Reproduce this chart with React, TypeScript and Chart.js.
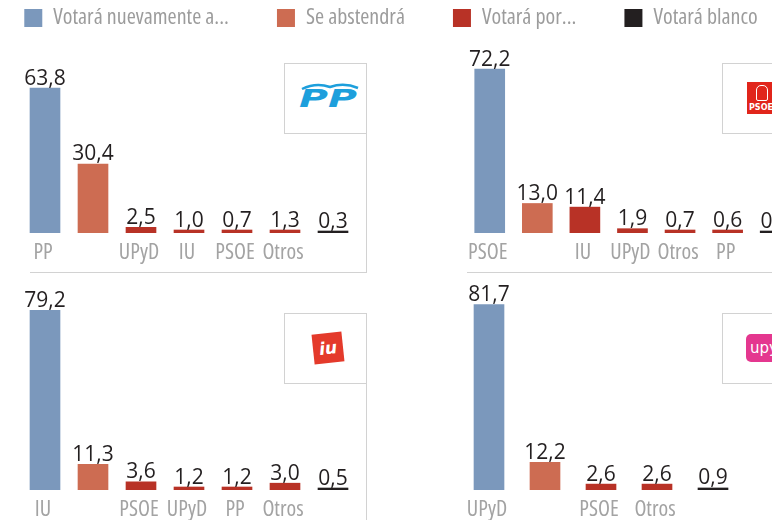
import React, { useEffect, useRef } from "react";
import { Chart, registerables } from "chart.js";

Chart.register(...registerables);

const FAMILY = '"Open Sans", Roboto, sans-serif';

// Legend series (one colour per kind of answer)
const SERIES = ["Votará nuevamente a...", "Se abstendrá", "Votará por...", "Votará blanco"];
const COLORS = ["#7b98bc", "#cd6c52", "#b83226", "#231f20"];

// Panel: voters of PP
const PP_CATEGORIES = ["PP", "", "UPyD", "IU", "PSOE", "Otros", ""];
const PP_VALUES = [63.8, 30.4, 2.5, 1.0, 0.7, 1.3, 0.3];

// Panel: voters of PSOE
const PSOE_CATEGORIES = ["PSOE", "", "IU", "UPyD", "Otros", "PP", ""];
const PSOE_VALUES = [72.2, 13.0, 11.4, 1.9, 0.7, 0.6, 0.4];

// Panel: voters of IU
const IU_CATEGORIES = ["IU", "", "PSOE", "UPyD", "PP", "Otros", ""];
const IU_VALUES = [79.2, 11.3, 3.6, 1.2, 1.2, 3.0, 0.5];

// Panel: voters of UPyD
const UPYD_CATEGORIES = ["UPyD", "", "PSOE", "Otros", ""];
const UPYD_VALUES = [81.7, 12.2, 2.6, 2.6, 0.9];

const kindOf = (i: number, n: number) => (i === 0 ? 0 : i === 1 ? 1 : i === n - 1 ? 3 : 2);

function buildDatasets(values: number[]) {
  return SERIES.map((label, k) => ({
    label,
    data: values.map((v, i) => (kindOf(i, values.length) === k ? v : null)),
    backgroundColor: COLORS[k],
    borderWidth: 0,
    minBarLength: k === 3 ? 2 : 3,
    barThickness: 30,
  }));
}

const valueLabels = {
  id: "valueLabels",
  afterDatasetsDraw(chart: any) {
    const ctx = chart.ctx;
    ctx.save();
    ctx.font = `21px ${FAMILY}`;
    ctx.fillStyle = "#231f20";
    ctx.textAlign = "center";
    ctx.textBaseline = "alphabetic";
    chart.data.datasets.forEach((ds: any, di: number) => {
      const meta = chart.getDatasetMeta(di);
      meta.data.forEach((el: any, i: number) => {
        const v = ds.data[i];
        if (v == null) return;
        ctx.fillText(v.toFixed(1).replace(".", ","), el.x, el.y - 3.5);
      });
    });
    ctx.restore();
  },
};

const PLOT_H = 227;
const AXIS_H = 32;

function Panel(props: { categories: string[]; values: number[]; left: number; top: number; width: number }) {
  const ref = useRef<HTMLCanvasElement>(null);
  useEffect(() => {
    const chart = new Chart(ref.current as HTMLCanvasElement, {
      type: "bar",
      data: { labels: props.categories, datasets: buildDatasets(props.values) as any },
      options: {
        responsive: false,
        animation: false,
        devicePixelRatio: 1,
        layout: { padding: 0 },
        plugins: { legend: { display: false }, tooltip: { enabled: false } },
        scales: {
          x: {
            stacked: true,
            grid: { display: false, drawTicks: false },
            border: { display: false },
            ticks: {
              autoSkip: false,
              maxRotation: 0,
              padding: 7,
              labelOffset: -2,
              color: "#a3a3a3",
              font: { family: FAMILY, size: 22, weight: "condensed" },
            },
            afterFit: (s: any) => {
              s.height = AXIS_H;
            },
          },
          y: { stacked: true, display: false, min: 0, max: 100 },
        },
      } as any,
      plugins: [valueLabels],
    });
    return () => chart.destroy();
  }, []);
  return (
    <canvas
      ref={ref}
      width={props.width}
      height={PLOT_H + AXIS_H}
      style={{ position: "absolute", left: props.left, top: props.top, width: props.width, height: PLOT_H + AXIS_H }}
    />
  );
}

function LegendChart() {
  const ref = useRef<HTMLCanvasElement>(null);
  useEffect(() => {
    const chart = new Chart(ref.current as HTMLCanvasElement, {
      type: "bar",
      data: {
        labels: [],
        datasets: SERIES.map((label, k) => ({ label, data: [], backgroundColor: COLORS[k], borderWidth: 0 })),
      },
      options: {
        responsive: false,
        animation: false,
        devicePixelRatio: 1,
        layout: { padding: 0 },
        scales: { x: { display: false }, y: { display: false } },
        plugins: {
          tooltip: { enabled: false },
          legend: {
            display: true,
            position: "top",
            align: "center",
            labels: {
              boxWidth: 18,
              boxHeight: 18,
              padding: 48,
              color: "#9c9c9c",
              font: { family: FAMILY, size: 22, weight: "condensed" },
            },
          },
        },
      } as any,
    });
    return () => chart.destroy();
  }, []);
  return (
    <canvas ref={ref} width={900} height={220} style={{ position: "absolute", left: -59, top: -41, width: 900, height: 220 }} />
  );
}

const LINE = "#d2d2d2";

function Box(p: { left: number; top: number; width: number; height: number; children?: any }) {
  return (
    <div
      style={{
        position: "absolute",
        left: p.left,
        top: p.top,
        width: p.width,
        height: p.height,
        border: `1px solid ${LINE}`,
        boxSizing: "border-box",
        background: "#fff",
      }}
    >
      {p.children}
    </div>
  );
}

function Line(p: { left: number; top: number; width: number; height: number }) {
  return <div style={{ position: "absolute", left: p.left, top: p.top, width: p.width, height: p.height, background: LINE }} />;
}

export default function App() {
  return (
    <div
      style={{
        position: "absolute",
        left: 0,
        top: 0,
        width: 772,
        height: 520,
        overflow: "hidden",
        background: "#fff",
        fontFamily: FAMILY,
      }}
    >
      <LegendChart />
      <Line left={366} top={63} width={1} height={210} />
      <Line left={30} top={272} width={337} height={1} />
      <Line left={366} top={313} width={1} height={207} />
      <Line left={467} top={272} width={305} height={1} />
      <Box left={284} top={63} width={83} height={71}>
        <svg width="64" height="30" style={{ position: "absolute", left: 13, top: 16 }}>
          <path d="M4 9 Q 18 2 32 7 Q 46 2 60 8" stroke="#1d9fdc" strokeWidth="2.5" fill="none" />
          <text
            x="1"
            y="27"
            fontSize="24"
            fontWeight="900"
            fontStyle="italic"
            fontFamily="DejaVu Sans"
            fill="#1d9fdc"
            textLength="58"
            lengthAdjust="spacingAndGlyphs"
          >
            PP
          </text>
        </svg>
      </Box>
      <Box left={722} top={63} width={70} height={71}>
        <div
          style={{
            position: "absolute",
            left: 24,
            top: 18,
            width: 34,
            height: 32,
            background: "#e1251b",
            color: "#fff",
            fontFamily: "DejaVu Sans",
            fontWeight: 700,
            fontSize: 8,
            textAlign: "left",
          }}
        >
          <div style={{ position: "absolute", left: 9, top: 3, width: 10, height: 14, border: "1.5px solid #fff", borderRadius: "5px 5px 2px 2px" }} />
          <div style={{ position: "absolute", left: 2, bottom: 2 }}>PSOE</div>
        </div>
      </Box>
      <Box left={284} top={313} width={83} height={71}>
        <div
          style={{
            position: "absolute",
            left: 28,
            top: 19,
            width: 30,
            height: 30,
            background: "#e43a2b",
            transform: "rotate(-6deg)",
            color: "#fff",
            fontFamily: "DejaVu Sans",
            fontWeight: 900,
            fontStyle: "italic",
            fontSize: 17,
            lineHeight: "30px",
            textAlign: "center",
          }}
        >
          iu
        </div>
      </Box>
      <Box left={722} top={313} width={70} height={71}>
        <div
          style={{
            position: "absolute",
            left: 23,
            top: 20,
            width: 48,
            height: 28,
            borderRadius: 5,
            background: "#e4378f",
            color: "#fff",
            fontFamily: "DejaVu Sans",
            fontSize: 15,
            lineHeight: "28px",
            paddingLeft: 4,
            boxSizing: "border-box",
          }}
        >
          upyd
        </div>
      </Box>
      <Panel categories={PP_CATEGORIES} values={PP_VALUES} left={21} top={233 - PLOT_H} width={336} />
      <Panel categories={PSOE_CATEGORIES} values={PSOE_VALUES} left={463} top={233 - PLOT_H} width={336} />
      <Panel categories={IU_CATEGORIES} values={IU_VALUES} left={21} top={490 - PLOT_H} width={336} />
      <Panel categories={UPYD_CATEGORIES} values={UPYD_VALUES} left={461} top={490 - PLOT_H} width={280} />
    </div>
  );
}
